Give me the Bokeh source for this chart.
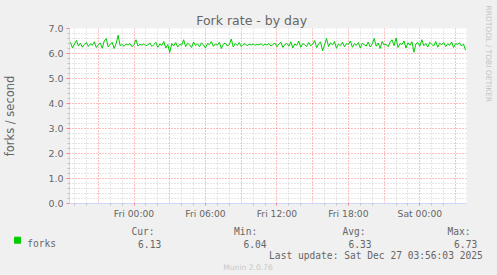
import math
import pandas as pd
from bokeh.plotting import figure
from bokeh.layouts import row, column
from bokeh.core.properties import value
from bokeh.models import (Range1d, FixedTicker, DatetimeTickFormatter, PrintfTickFormatter,
                          ColumnDataSource)
from bokeh.embed import file_html
from bokeh.resources import INLINE

# ---------------- data ----------------
title_text = "Fork rate - by day"
y_label = "forks / second"
series_name = "forks"
window_start = "2025-12-25 18:35"
window_end = "2025-12-27 03:55"
sample_step_min = 10

forks = [
    6.45, 6.22, 6.38, 6.52, 6.30, 6.41, 6.25, 6.36, 6.44, 6.28,
    6.39, 6.33, 6.47, 6.24, 6.35, 6.42, 6.21, 6.50, 6.60, 6.26,
    6.37, 6.45, 6.20, 6.40, 6.73, 6.31, 6.36, 6.29, 6.38, 6.34,
    6.40, 6.27, 6.36, 6.55, 6.30, 6.37, 6.33, 6.39, 6.31, 6.35,
    6.42, 6.28, 6.36, 6.45, 6.25, 6.38, 6.32, 6.48, 6.22, 6.36,
    6.04, 6.40, 6.30, 6.44, 6.26, 6.37, 6.33, 6.55, 6.28, 6.41,
    6.35, 6.24, 6.46, 6.31, 6.39, 6.27, 6.43, 6.34, 6.22, 6.40,
    6.36, 6.48, 6.29, 6.38, 6.33, 6.45, 6.20, 6.37, 6.42, 6.30,
    6.35, 6.58, 6.26, 6.40, 6.32, 6.44, 6.28, 6.36, 6.39, 6.31,
    6.37, 6.34, 6.38, 6.33, 6.36, 6.35, 6.39, 6.32, 6.37, 6.34,
    6.40, 6.30, 6.36, 6.42, 6.27, 6.38, 6.45, 6.24, 6.36, 6.41,
    6.29, 6.47, 6.22, 6.38, 6.33, 6.50, 6.25, 6.40, 6.35, 6.28,
    6.44, 6.31, 6.37, 6.52, 6.23, 6.39, 6.46, 6.10, 6.35, 6.60,
    6.28, 6.43, 6.34, 6.48, 6.21, 6.38, 6.31, 6.45, 6.27, 6.40,
    6.36, 6.50, 6.25, 6.39, 6.33, 6.44, 6.22, 6.41, 6.35, 6.30,
    6.46, 6.26, 6.38, 6.60, 6.29, 6.42, 6.20, 6.48, 6.34, 6.37,
    6.27, 6.45, 6.55, 6.31, 6.62, 6.24, 6.40, 6.36, 6.50, 6.22,
    6.43, 6.33, 6.47, 6.05, 6.38, 6.44, 6.29, 6.55, 6.31, 6.40,
    6.26, 6.45, 6.36, 6.30, 6.48, 6.25, 6.41, 6.35, 6.44, 6.28,
    6.39, 6.33, 6.46, 6.24, 6.40, 6.36, 6.43, 6.30, 6.38, 6.13,
]

x_label_ticks = ["2025-12-26 00:00", "2025-12-26 06:00", "2025-12-26 12:00",
                 "2025-12-26 18:00", "2025-12-27 00:00"]
x_grid_first = "2025-12-25 21:00"
x_minor_first = "2025-12-25 19:00"
y_ticks = [0, 1, 2, 3, 4, 5, 6, 7]
y_minor_step = 0.2

stat_names = ["Cur:", "Min:", "Avg:", "Max:"]
stat_values = ["6.13", "6.04", "6.33", "6.73"]
last_update = "Last update: Sat Dec 27 03:56:03 2025"
footer = "Munin 2.0.76"
watermark = "RRDTOOL / TOBI OETIKER"

# ---------------- helpers ----------------
def ms(t):
    return pd.Timestamp(t).value / 1e6

FONT = "#666666"
AXIS = "#CFD6F8"
BG = "#F0F0F0"
MONO = "DejaVu Sans Mono"
SANS = "DejaVu Sans"

t0 = pd.Timestamp(window_start)
t1 = pd.Timestamp(window_end)
times = pd.date_range(t0 + pd.Timedelta(minutes=5), periods=len(forks),
                      freq=f"{sample_step_min}min")
src = ColumnDataSource(dict(t=times, v=forks))

LEFT_W = 485
TOP_H = 222
# ---------------- main chart ----------------
p = figure(width=LEFT_W, height=TOP_H, x_axis_type="datetime",
           x_range=Range1d(ms(t0), ms(t1)), y_range=Range1d(0, 7),
           output_backend="svg", toolbar_location=None,
           min_border_left=66, min_border_right=19, min_border_top=28,
           min_border_bottom=19, background_fill_color="#FFFFFF",
           border_fill_color=BG, outline_line_color=None)
p.frame_align = False

p.title.text = title_text
p.title.text_font = SANS
p.title.text_font_size = "12.5px"
p.title.text_font_style = "normal"
p.title.text_color = FONT
p.title.align = "left"
p.title.offset = 126.7
p.title.standoff = 2

major_h = [ms(x) for x in pd.date_range(x_grid_first, t1, freq="3h")]
minor_h = [ms(x) for x in pd.date_range(x_minor_first, t1, freq="1h")]
minor_h = [m for m in minor_h if m not in major_h]
label_ms = [ms(x) for x in x_label_ticks]
y_minor = [round(i * y_minor_step, 2) for i in range(0, 36)]
y_minor = [v for v in y_minor if abs(v - round(v)) > 1e-6]

p.xgrid.ticker = FixedTicker(ticks=major_h, minor_ticks=minor_h)
p.ygrid.ticker = FixedTicker(ticks=y_ticks, minor_ticks=y_minor)
for g in (p.xgrid, p.ygrid):
    g.grid_line_color = "#ff0000"
    g.grid_line_alpha = 0.5
    g.grid_line_dash = "1 2"
    g.minor_grid_line_color = "#b8b8b8"
    g.minor_grid_line_alpha = 0.7
    g.minor_grid_line_dash = "1 2"

p.xaxis.ticker = FixedTicker(ticks=label_ms, minor_ticks=minor_h)
fmt = "%a %H:%M"
p.xaxis.formatter = DatetimeTickFormatter(hours=fmt, hourmin=fmt, days=fmt,
                                          minutes=fmt, minsec=fmt)
p.yaxis.ticker = FixedTicker(ticks=y_ticks, minor_ticks=y_minor)
p.yaxis.formatter = PrintfTickFormatter(format="%.1f")

for ax in (p.xaxis, p.yaxis):
    ax.axis_line_color = AXIS
    ax.major_tick_line_color = "#ff0000"
    ax.major_tick_line_alpha = 0.45
    ax.major_tick_in = 0
    ax.major_tick_out = 3
    ax.minor_tick_line_color = "#c0c0c0"
    ax.minor_tick_in = 0
    ax.minor_tick_out = 2
    ax.major_label_text_font = SANS
    ax.major_label_text_color = FONT
    ax.major_label_standoff = 3
p.xaxis.major_tick_out = 2
p.xaxis.major_label_standoff = 2
p.xaxis.major_label_text_font_size = "9.2px"
p.yaxis.major_label_text_font_size = "9.5px"
p.yaxis.axis_label = y_label
p.yaxis.axis_label_text_font = SANS
p.yaxis.axis_label_text_font_style = "normal"
p.yaxis.axis_label_text_font_size = "11.5px"
p.yaxis.axis_label_text_color = FONT
p.yaxis.axis_label_standoff = 28

p.line("t", "v", source=src, line_color="#00CC00", line_width=1)

# ---------------- helper panels (pixel coordinates) ----------------
def blank(w, h, x0, x1, y0, y1):
    f = figure(width=w, height=h, x_range=Range1d(x0, x1), y_range=Range1d(y0, y1),
               output_backend="svg", toolbar_location=None, min_border=0,
               min_border_left=0, min_border_right=0, min_border_top=0,
               min_border_bottom=0,
               x_axis_type=None, y_axis_type=None, outline_line_color=None,
               background_fill_color=BG, border_fill_color=BG)
    f.frame_align = False
    f.grid.visible = False
    return f

# legend / statistics block below the chart
leg = blank(LEFT_W, 275 - TOP_H, 0, LEFT_W, 275, TOP_H)
leg.scatter(x=[17], y=[239.7], marker="square", size=6, fill_color="#00CC00",
            line_color="#00CC00")
leg.text(x=[26.7], y=[243.3], text=[series_name], text_font=value(MONO),
         text_font_size=value("9.6px"), text_color=FONT, text_align="left",
         text_baseline="alphabetic")
leg.text(x=[154, 256.7, 365, 470], y=[230.7] * 4, text=stat_names,
         text_font=value(MONO), text_font_size=value("9.6px"), text_color=FONT,
         text_align="right", text_baseline="alphabetic")
leg.text(x=[160.7, 266, 371, 476.7], y=[243.3] * 4, text=stat_values,
         text_font=value(MONO), text_font_size=value("9.6px"), text_color=FONT,
         text_align="right", text_baseline="alphabetic")
leg.text(x=[482.3], y=[254.5], text=[last_update], text_font=value(MONO),
         text_font_size=value("9.6px"), text_color=FONT, text_align="right",
         text_baseline="alphabetic")
leg.text(x=[222.7], y=[266.7], text=[footer], text_font=value(SANS),
         text_font_size=value("7.6px"), text_color="#c8c8c8", text_align="left",
         text_baseline="alphabetic")

# watermark strip on the right
wm = blank(497 - LEFT_W, 275, LEFT_W, 497, 275, 0)
wm.text(x=[488], y=[5], text=[watermark], text_font=value(SANS),
        text_font_size=value("7.5px"), text_color="#c4c4c4", text_align="left",
        text_baseline="middle", angle=-math.pi / 2)

layout = row(column(p, leg, spacing=0), wm, spacing=0)
layout.styles = {"background-color": BG}
html = file_html(layout, INLINE)
html = html.replace("</head>",
                    "<style>html,body{background:%s;margin:0;padding:0}</style></head>" % BG, 1)
open("out.html", "w").write(html)
